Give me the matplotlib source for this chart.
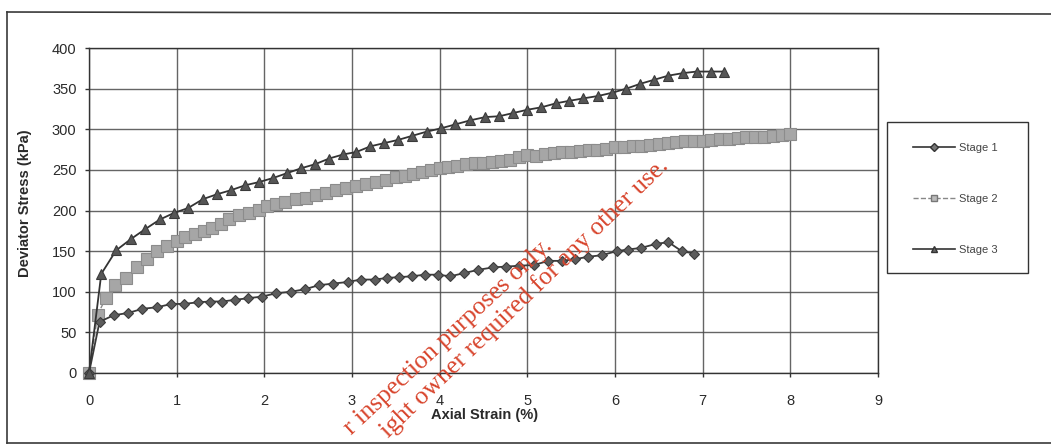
import matplotlib
matplotlib.use("Agg")
import matplotlib.pyplot as plt
from matplotlib.lines import Line2D
from matplotlib.patches import Rectangle

plt.rcParams['font.family'] = ['Liberation Sans', 'DejaVu Sans']

# ---- data ----
s1_x = [0, 0.12, 0.28, 0.45, 0.61, 0.78, 0.94, 1.08, 1.24, 1.38, 1.52, 1.66, 1.81, 1.97,
        2.13, 2.30, 2.46, 2.62, 2.78, 2.95, 3.10, 3.26, 3.40, 3.54, 3.68, 3.83, 3.98, 4.12,
        4.28, 4.44, 4.61, 4.76, 4.91, 5.08, 5.24, 5.39, 5.54, 5.69, 5.85, 6.02, 6.15, 6.30,
        6.47, 6.61, 6.76, 6.90]
s1_y = [0, 63, 71, 74, 79, 81, 85, 85, 87, 88, 88, 90, 92, 94,
        98, 100, 103, 108, 110, 112, 115, 115, 117, 118, 119, 121, 121, 119,
        123, 127, 130, 131, 132, 133, 138, 138, 140, 143, 145, 150, 152, 154,
        159, 161, 150, 147]

s2_x = [0, 0.10, 0.19, 0.30, 0.42, 0.55, 0.66, 0.77, 0.89, 1.00, 1.10, 1.21, 1.31, 1.40,
        1.50, 1.60, 1.71, 1.82, 1.94, 2.03, 2.13, 2.24, 2.36, 2.47, 2.59, 2.70, 2.82, 2.93,
        3.05, 3.16, 3.27, 3.39, 3.50, 3.60, 3.70, 3.80, 3.90, 4.00, 4.10, 4.20, 4.30, 4.40,
        4.50, 4.60, 4.70, 4.80, 4.90, 5.00, 5.10, 5.20, 5.30, 5.40, 5.50, 5.60, 5.70, 5.80,
        5.90, 6.00, 6.10, 6.20, 6.30, 6.40, 6.50, 6.60, 6.70, 6.80, 6.90, 7.00, 7.10, 7.20,
        7.30, 7.40, 7.50, 7.60, 7.70, 7.80, 7.90, 8.00]
s2_y = [0, 72, 92, 108, 117, 131, 140, 150, 156, 162, 167, 171, 175, 179,
        183, 190, 194, 197, 201, 205, 208, 211, 214, 216, 219, 222, 225, 228,
        230, 233, 235, 238, 241, 243, 245, 248, 250, 252, 253, 255, 257, 258,
        259, 260, 261, 262, 266, 268, 267, 270, 271, 272, 272, 273, 274, 275,
        276, 278, 278, 279, 280, 281, 282, 283, 284, 285, 285, 286, 287, 288,
        288, 289, 290, 290, 291, 292, 293, 294]

s3_x = [0, 0.14, 0.31, 0.48, 0.64, 0.81, 0.97, 1.13, 1.30, 1.46, 1.62, 1.78, 1.94, 2.10,
        2.26, 2.42, 2.58, 2.74, 2.90, 3.05, 3.21, 3.37, 3.53, 3.69, 3.85, 4.01, 4.18, 4.35,
        4.52, 4.68, 4.84, 5.00, 5.16, 5.33, 5.48, 5.64, 5.81, 5.97, 6.13, 6.29, 6.45, 6.61,
        6.77, 6.93, 7.09, 7.24]
s3_y = [0, 122, 151, 165, 177, 189, 197, 203, 214, 220, 225, 231, 235, 240,
        246, 252, 257, 264, 269, 272, 279, 283, 287, 292, 297, 301, 306, 311,
        315, 316, 320, 324, 327, 332, 335, 338, 341, 345, 350, 356, 361, 366,
        369, 371, 371, 371]

series_labels = ["Stage 1", "Stage 2", "Stage 3"]
x_ticks = list(range(0, 10))
y_ticks = list(range(0, 401, 50))

W, H = 1051, 446
fig = plt.figure(figsize=(W / 100, H / 100), dpi=100)

def fx(px):
    return px / W

def fy(py):
    return (H - py) / H

ax = fig.add_axes([fx(89), fy(373), fx(878) - fx(89), fy(48) - fy(373)])

grid_c = '#4a4a4a'
ax.set_xlim(0, 9)
ax.set_ylim(0, 400)
ax.set_xticks(x_ticks)
ax.set_yticks(y_ticks)
ax.grid(True, color=grid_c, linewidth=1.0, alpha=0.85)
ax.set_axisbelow(True)
for sp in ax.spines.values():
    sp.set_color('#333333')
    sp.set_linewidth(1.0)
ax.tick_params(axis='both', colors='#333333', labelcolor='#2a2a2a', labelsize=10.5,
               length=3, width=1)
ax.tick_params(axis='x', pad=12)
ax.tick_params(axis='y', pad=6)

l2, = ax.plot(s2_x, s2_y, '--', color='#8a8a8a', lw=1.0, marker='s', markersize=8.6,
              markerfacecolor='#a6a6a6', markeredgecolor='#8c8c8c', markeredgewidth=0.8,
              zorder=2.5, label=series_labels[1], clip_on=False)
l1, = ax.plot(s1_x, s1_y, '-', color='#3a3a3a', lw=1.3, marker='D', markersize=5.4,
              markerfacecolor='#5c5c5c', markeredgecolor='#3c3c3c', markeredgewidth=0.8,
              zorder=3, label=series_labels[0], clip_on=False)
l3, = ax.plot(s3_x, s3_y, '-', color='#333333', lw=1.3, marker='^', markersize=7.5,
              markerfacecolor='#565656', markeredgecolor='#3a3a3a', markeredgewidth=0.8,
              zorder=3.2, label=series_labels[2], clip_on=False)

ax.set_xlabel("Axial Strain (%)", fontsize=10.5, fontweight='bold', color='#2a2a2a')
ax.set_ylabel("Deviator Stress (kPa)", fontsize=10.5, fontweight='bold', color='#2a2a2a')
ax.xaxis.set_label_coords((485 - 89) / 789, (373 - 408) / 325)
ax.yaxis.set_label_coords((32 - 89) / 789, (373 - 203) / 325)

# legend box
fig.add_artist(Rectangle((fx(887), fy(273)), fx(1028) - fx(887), fy(122) - fy(273),
                         transform=fig.transFigure, fill=False, edgecolor='#333333',
                         linewidth=1.0))
handles = [
    Line2D([], [], color='#333333', lw=1.2, marker='D', markersize=4,
           markerfacecolor='#777777', markeredgecolor='#333333'),
    Line2D([], [], color='#888888', lw=1.0, ls='--', marker='s', markersize=4.5,
           markerfacecolor='#bbbbbb', markeredgecolor='#777777'),
    Line2D([], [], color='#333333', lw=1.2, marker='^', markersize=5,
           markerfacecolor='#666666', markeredgecolor='#333333'),
]
fig.legend(handles, series_labels, loc='upper left',
           bbox_to_anchor=(fx(913), fy(143)), frameon=False, fontsize=8,
           handlelength=3.8, handletextpad=0.3, labelspacing=3.7,
           borderpad=0, borderaxespad=0, labelcolor='#444444')

# outer frame
frame_c = '#3a3a3a'
fig.add_artist(Line2D([fx(7), fx(7)], [fy(12), fy(443)], transform=fig.transFigure,
                      color=frame_c, lw=1.2))
fig.add_artist(Line2D([fx(7), fx(1051)], [fy(12), fy(14)], transform=fig.transFigure,
                      color=frame_c, lw=1.2))
fig.add_artist(Line2D([fx(7), fx(1051)], [fy(443), fy(443)], transform=fig.transFigure,
                      color=frame_c, lw=1.2))

# watermark (visible portion of the stamp)
wm_c = '#d8452d'
fig.text(fx(553), fy(247), "r inspection purposes only.", rotation=43,
         rotation_mode='anchor', ha='right', va='baseline', color=wm_c,
         fontsize=18.5, family=['Liberation Serif', 'DejaVu Serif'], zorder=10)
fig.text(fx(670), fy(167), "ight owner required for any other use.",
         rotation=44, rotation_mode='anchor', ha='right', va='baseline', color=wm_c,
         fontsize=18.5, family=['Liberation Serif', 'DejaVu Serif'], zorder=10)

fig.savefig("out.png", dpi=100)
